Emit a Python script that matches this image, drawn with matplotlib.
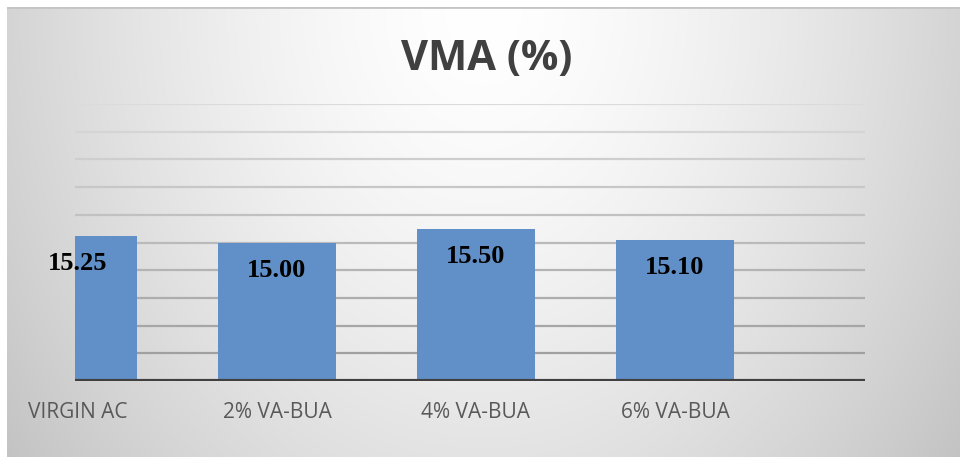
import numpy as np
import matplotlib
matplotlib.use("Agg")
import matplotlib.pyplot as plt

# data
categories = ["VIRGIN AC", "2% VA-BUA", "4% VA-BUA", "6% VA-BUA"]
vma = [15.25, 15.00, 15.50, 15.10]
labels = ["15.25", "15.00", "15.50", "15.10"]
y_ticks = [10, 11, 12, 13, 14, 15, 16, 17, 18, 19, 20]

W, H = 960, 457
fig = plt.figure(figsize=(W / 100, H / 100), dpi=100)
fig.patch.set_facecolor("white")

# background panel with soft gradient (white at top centre, grey at edges)
bg = fig.add_axes([7 / W, 0, 1 - 7 / W, 1 - 7 / H])
bg.set_axis_off()
yy, xx = np.mgrid[0:1:200j, 0:1:400j]
d = np.sqrt(((xx - 0.5) / 0.6) ** 2 + ((yy - 0.0) / 1.6) ** 2)
shade = 1.0 - 0.22 * np.clip(d, 0, 1.2) ** 1.5
bg.imshow(np.dstack([shade, shade, shade]), aspect="auto", extent=[0, 1, 1, 0],
          vmin=0, vmax=1)
bg.axhline(0.0, color="#c4c4c4", lw=2)
bg.set_xlim(0, 1)
bg.set_ylim(1, 0)

ax = fig.add_axes([75 / W, 76 / H, (865 - 75) / W, (381 - 104) / H])
ax.patch.set_alpha(0)

x = np.arange(len(categories))
ax.set_xlim(-0.015, 3.955)
ax.set_ylim(10, 20)

# gridlines, fading towards the top like the original
for t in y_ticks[1:]:
    f = (t - 10) / 10
    g = 0.60 + 0.26 * f
    ax.axhline(t, color=(g, g, g), lw=1.6, zorder=1)

ax.bar(x, np.array(vma) - 10, bottom=10, width=0.59, color="#6190c8",
       zorder=2, clip_on=True)

for xi, v, lab in zip(x, vma, labels):
    ax.text(xi, v - 1.0, lab, ha="center", va="center", fontsize=19,
            fontweight="bold", family="Liberation Serif", color="black", zorder=3)

ax.axhline(10, color="#404040", lw=3, zorder=4)

for s in ax.spines.values():
    s.set_visible(False)
ax.set_yticks([])
ax.set_xticks(x)
ax.set_xticklabels(categories, fontsize=15, color="#595959", family="Open Sans")
ax.tick_params(axis="x", length=0, pad=15)

fig.text(487 / W, 1 - 60 / H, "VMA (%)", ha="center", va="center", fontsize=30,
         fontweight="bold", family="Open Sans", color="#404040")

fig.savefig("out.png", dpi=100)
